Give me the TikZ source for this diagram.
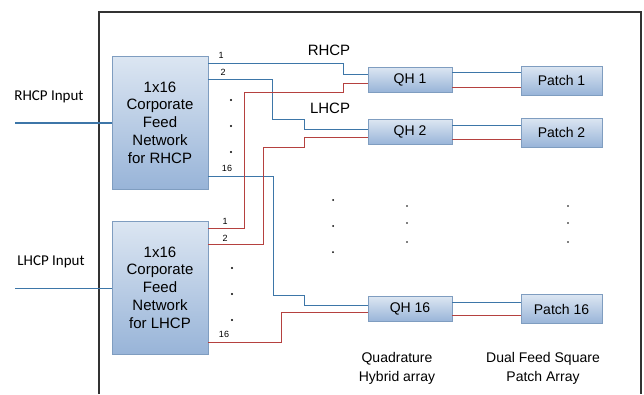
\documentclass[tikz,border=0pt]{standalone}
\usepackage{fontspec}
\setmainfont{Liberation Sans}
\newfontfamily\calib{Carlito}
\usepackage{tikz}
\usetikzlibrary{calc}
\definecolor{wireblue}{HTML}{3D76A8}
\definecolor{wirered}{HTML}{B5413F}
\definecolor{boxtop}{HTML}{DCE6F2}
\definecolor{boxbot}{HTML}{98B4D8}
\definecolor{boxedge}{HTML}{7F9DC0}
\definecolor{framegray}{HTML}{333333}

\begin{document}
\begin{tikzpicture}[x=1pt, y=-1pt,
    feed/.style={draw=boxedge, top color=boxtop, bottom color=boxbot,
                 minimum width=96pt, minimum height=133pt, align=center,
                 inner sep=0pt, font=\fontsize{15}{17.7}\selectfont},
    hyb/.style={draw=boxedge, top color=boxtop, bottom color=boxbot,
                minimum width=84pt, minimum height=25pt, inner sep=0pt,
                font=\fontsize{14}{16}\selectfont},
    patch/.style={draw=boxedge, top color=boxtop, bottom color=boxbot,
                  minimum width=81pt, minimum height=29pt, inner sep=0pt,
                  font=\fontsize{14}{16}\selectfont},
    bwire/.style={draw=wireblue, line width=1pt},
    rwire/.style={draw=wirered, line width=1pt},
    port/.style={font=\fontsize{9}{10}\selectfont, inner sep=0pt},
    tag/.style={font=\fontsize{15}{17}\selectfont, inner sep=0pt},
    caption/.style={font=\fontsize{14}{19}\selectfont, align=center, inner sep=0pt},
    inlabel/.style={font=\calib\fontsize{15}{17}\selectfont, inner sep=0pt}
]
\useasboundingbox (0,0) rectangle (644,394);

% --- frame ---
\draw[framegray, line width=1.2pt] (99,394) -- (99,12) -- (641,12) -- (641,394);

% --- feed networks ---
\node[feed] (rh) at (160,122.5) {1x16\\Corporate\\Feed\\Network\\for RHCP};
\node[feed] (lh) at (160,287.5) {1x16\\Corporate\\Feed\\Network\\for LHCP};

% --- hybrids and patches ---
\node[hyb] (qh1)  at (410,79.5) {QH 1};
\node[hyb] (qh2)  at (410,132)  {QH 2};
\node[hyb] (qh16) at (410,309)  {QH 16};

\node[patch] (p1)  at (561.5,80.5)  {Patch 1};
\node[patch] (p2)  at (561.5,132.5) {Patch 2};
\node[patch] (p16) at (561.5,309)   {Patch 16};

% --- inputs ---
\coordinate (rin) at (15,123);
\coordinate (lin) at (15,288);
\node[inlabel] (rinl) at (49,97)  {RHCP Input};
\node[inlabel] (linl) at (51,262) {LHCP Input};
\draw[bwire, line width=1.2pt] (rin) -- (rh.west |- rin);
\draw[bwire, line width=0.8pt] (lin) -- (lh.west |- lin);

% --- RHCP outputs ---
\draw[bwire] (rh.east |- 0,63) -- (343,63) |- (qh1.west |- 0,74);
\draw[bwire] (rh.east |- 0,79) -| (272,119) -| (304,129) -- (qh2.west |- 0,129);
\draw[bwire] (rh.east |- 0,176) -| (273,295) -| (304,305) -- (qh16.west |- 0,305);

% --- LHCP outputs ---
\draw[rwire] (lh.east |- 0,228) -| (244,92) -| (343,83) -- (qh1.west |- 0,83);
\draw[rwire] (lh.east |- 0,244) -| (263,147) -| (304,137) -- (qh2.west |- 0,137);
\draw[rwire] (lh.east |- 0,342) -| (281,312) -- (qh16.west |- 0,312);

% --- hybrid to patch ---
\draw[bwire] (qh1.east |- 0,72)  -- (p1.west |- 0,72);
\draw[rwire] (qh1.east |- 0,87)  -- (p1.west |- 0,87);
\draw[bwire] (qh2.east |- 0,125) -- (p2.west |- 0,125);
\draw[rwire] (qh2.east |- 0,139) -- (p2.west |- 0,139);
\draw[bwire] (qh16.east |- 0,302) -- (p16.west |- 0,302);
\draw[rwire] (qh16.east |- 0,315) -- (p16.west |- 0,315);

% --- port numbers ---
\node[port] (r1)  at (221,55)  {1};
\node[port] (r2)  at (223,72)  {2};
\node[port] (r16) at (227,168) {16};
\node[port] (l1)  at (225,221) {1};
\node[port] (l2)  at (225,238) {2};
\node[port] (l16) at (224,334) {16};

% --- labels ---
\node[tag] (rtag) at (329,50)  {RHCP};
\node[tag] (ltag) at (330,108) {LHCP};
\node[caption] (qcap) at (397,368) {Quadrature\\Hybrid array};
\node[caption] (pcap) at (543,368) {Dual Feed Square\\Patch Array};

% --- dots ---
\foreach \y in {100,126,152} \fill (231,\y) circle (1.2);
\foreach \y in {268,294,320} \fill (232,\y) circle (1.2);
\foreach \y in {200,226,252} \fill (333,\y) circle (1);
\foreach \y in {206,223,242} {
  \fill (407,\y) circle (0.9);
  \fill (568,\y) circle (0.9);
}

\end{tikzpicture}
\end{document}
